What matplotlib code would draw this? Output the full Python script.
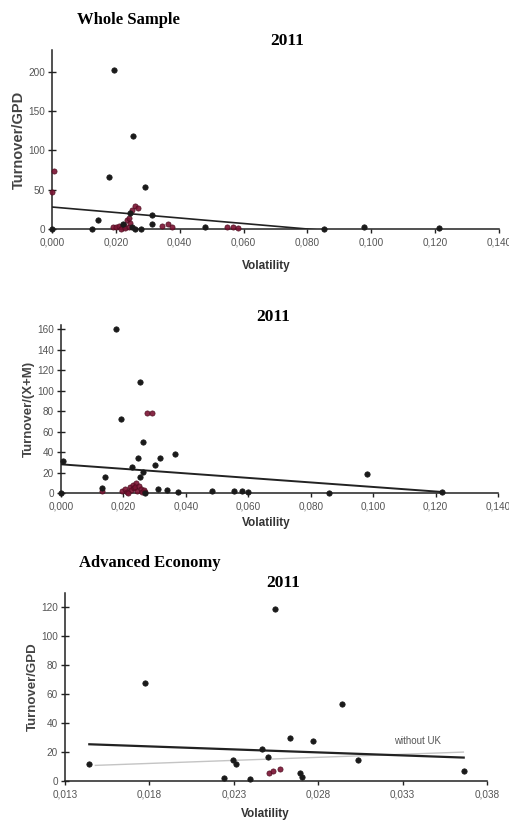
import matplotlib.pyplot as plt

W, H = 510, 821

# Whole sample: turnover / GDP against volatility
vol_gdp_black = [0.0193, 0.0253, 0.0177, 0.0291, 0.0143, 0.0124, 0.0, 0.0244, 0.0222,
                 0.0250, 0.0260, 0.0312, 0.0312, 0.0479, 0.0852, 0.0977, 0.1213, 0.0280]
to_gdp_black = [202, 118, 66, 53, 11.5, 0, 0, 20, 7,
                2, 0, 18, 6, 3, 0, 3, 1, 0]
vol_gdp_red = [0.0005, 0.0, 0.0260, 0.0270, 0.0235, 0.0190, 0.0200, 0.0210, 0.0220, 0.0215,
               0.0225, 0.0230, 0.0240, 0.0245, 0.0344, 0.0363, 0.0375, 0.0547, 0.0567, 0.0583,
               0.0240, 0.0250]
to_gdp_red = [74, 47, 29, 27, 11, 3, 2, 4, 2, 0.5,
              5, 1, 3, 8, 4, 6, 2, 3, 3, 1,
              14, 24]
trend_gdp = (28.0, -350.0)  # intercept, slope
trend_gdp_range = [0.0, 0.1213]

# Whole sample: turnover / (X+M)
vol_xm_black = [0.0175, 0.0253, 0.0191, 0.0264, 0.0365, 0.0246, 0.0317, 0.0301, 0.0227,
                0.0264, 0.0253, 0.0141, 0.0130, 0.0005, 0.0, 0.0312, 0.0339, 0.0376,
                0.0483, 0.0555, 0.0580, 0.0600, 0.0857, 0.0980, 0.1220, 0.0270]
to_xm_black = [160, 108, 72, 50, 37.7, 34.5, 34.5, 27, 25.7,
               20.8, 16, 16, 5, 31, 0, 4, 3, 1,
               2, 2, 2, 1, 0, 18.5, 1, 0]
vol_xm_red = [0.0275, 0.0293, 0.0194, 0.0205, 0.0210, 0.0220, 0.0225, 0.0230, 0.0235,
              0.0240, 0.0237, 0.0245, 0.0250, 0.0255, 0.0260, 0.0265, 0.0269, 0.0215, 0.0130]
to_xm_red = [78.5, 78.5, 2, 4, 1, 6, 3, 8, 5,
             10, 6, 2, 7, 4, 1, 3, 0.5, 0, 2]
trend_xm = (28.0, -221.0)
trend_xm_range = [0.0, 0.1220]

# Advanced economies: turnover / GDP
vol_adv_black = [0.02545, 0.01774, 0.0294, 0.0263, 0.02772, 0.02466, 0.0250, 0.03035,
                 0.01444, 0.02294, 0.02314, 0.02239, 0.02397, 0.02693, 0.02703, 0.03662]
to_adv_black = [119, 68, 53, 30, 27.7, 22, 16.4, 14.8,
                11.8, 14.3, 12, 2, 1.4, 5.8, 2.8, 6.7]
vol_adv_red = [0.02511, 0.02535, 0.02575]
to_adv_red = [5.5, 7, 8]
trend_adv = (25.4 + 415 * 0.01444, -415.0)
trend_adv_range = [0.01444, 0.03662]
trend_adv_no_uk = (10.8 - 422 * 0.0148, 422.0)
trend_adv_no_uk_range = [0.0148, 0.0366]

ticks_whole = [0.0, 0.02, 0.04, 0.06, 0.08, 0.10, 0.12, 0.14]
labels_whole = ["0,000", "0,020", "0,040", "0,060", "0,080", "0,100", "0,120", "0,140"]
ticks_adv = [0.013, 0.018, 0.023, 0.028, 0.033, 0.038]
labels_adv = ["0,013", "0,018", "0,023", "0,028", "0,033", "0,038"]

RED = "#7a1232"
SERIF = "Liberation Serif"
SANS = "Liberation Sans"


def px_box(left, right, top, bottom):
    return [left / W, 1 - bottom / H, (right - left) / W, (bottom - top) / H]


def ftext(x, y, s, **kw):
    fig.text(x / W, 1 - y / H, s, ha="center", va="center", **kw)


def style_axes(ax, xticks, xlabels, yticks, xlim, ylim, ylabel, ylabel_size):
    ax.set_xlim(*xlim)
    ax.set_ylim(*ylim)
    ax.set_xticks(xticks)
    ax.set_xticklabels(xlabels, fontfamily=SANS, fontsize=7.2, color="#555555")
    ax.set_yticks(yticks)
    for t in ax.get_yticklabels():
        t.set_fontfamily(SANS)
        t.set_fontsize(7.2)
        t.set_color("#555555")
    for side in ["top", "right"]:
        ax.spines[side].set_visible(False)
    for side in ["left", "bottom"]:
        ax.spines[side].set_color("#222222")
        ax.spines[side].set_linewidth(1.1)
    ax.tick_params(axis="y", direction="inout", length=6, width=1, color="#222222", pad=2)
    ax.tick_params(axis="x", direction="out", length=3, width=1, color="#222222", pad=3)
    ax.set_ylabel(ylabel, fontfamily=SANS, fontweight="bold", fontsize=ylabel_size,
                  color="#444444", labelpad=2)


def scatter_pair(ax, xb, yb, xr, yr):
    ax.scatter(xr, yr, s=14, color=RED, edgecolors="#4a0a1c", linewidths=0.5,
               zorder=3, clip_on=False, alpha=0.9)
    ax.scatter(xb, yb, s=15, color="#1a1a1a", edgecolors="#1a1a1a", linewidths=0.5,
               zorder=4, clip_on=False)


def trend(ax, coef, xr, **kw):
    a, b = coef
    ax.plot(xr, [a + b * x for x in xr], **kw)


fig = plt.figure(figsize=(W / 100, H / 100), dpi=100)

# panel 1
ax1 = fig.add_axes(px_box(52, 499, 50, 229))
trend(ax1, trend_gdp, trend_gdp_range, color="#222222", linewidth=1.2, zorder=2)
scatter_pair(ax1, vol_gdp_black, to_gdp_black, vol_gdp_red, to_gdp_red)
style_axes(ax1, ticks_whole, labels_whole, [0, 50, 100, 150, 200],
           (0, 0.14), (0, 228), "Turnover/GPD", 10.5)
ftext(128, 20, "Whole Sample", fontfamily=SERIF, fontweight="bold", fontsize=12)
ftext(287, 41, "2011", fontfamily=SERIF, fontweight="bold", fontsize=12.5)
ftext(266, 266, "Volatility", fontfamily=SANS, fontweight="bold", fontsize=8.5, color="#333333")

# panel 2
ax2 = fig.add_axes(px_box(61, 498, 325, 493))
trend(ax2, trend_xm, trend_xm_range, color="#222222", linewidth=1.4, zorder=2)
scatter_pair(ax2, vol_xm_black, to_xm_black, vol_xm_red, to_xm_red)
style_axes(ax2, ticks_whole, labels_whole, list(range(0, 161, 20)),
           (0, 0.14), (0, 164), "Turnover/(X+M)", 9.5)
ftext(273, 317, "2011", fontfamily=SERIF, fontweight="bold", fontsize=12.5)
ftext(266, 523, "Volatility", fontfamily=SANS, fontweight="bold", fontsize=8.5, color="#333333")

# panel 3
ax3 = fig.add_axes(px_box(65, 487, 593, 781))
trend(ax3, trend_adv_no_uk, trend_adv_no_uk_range, color="#c4c4c4", linewidth=1.0, zorder=2)
trend(ax3, trend_adv, trend_adv_range, color="#222222", linewidth=1.6, zorder=2)
scatter_pair(ax3, vol_adv_black, to_adv_black, vol_adv_red, to_adv_red)
style_axes(ax3, ticks_adv, labels_adv, list(range(0, 121, 20)),
           (0.013, 0.038), (0, 130), "Turnover/GPD", 9.5)
ax3.text(0.0325, 27.7, "without UK", fontfamily=SANS, fontsize=7, color="#555555",
         va="center")
ftext(150, 563, "Advanced Economy", fontfamily=SERIF, fontweight="bold", fontsize=12)
ftext(283, 583, "2011", fontfamily=SERIF, fontweight="bold", fontsize=12.5)
ftext(265, 814, "Volatility", fontfamily=SANS, fontweight="bold", fontsize=8.5, color="#333333")

fig.savefig("out.png", dpi=100, facecolor="white")
